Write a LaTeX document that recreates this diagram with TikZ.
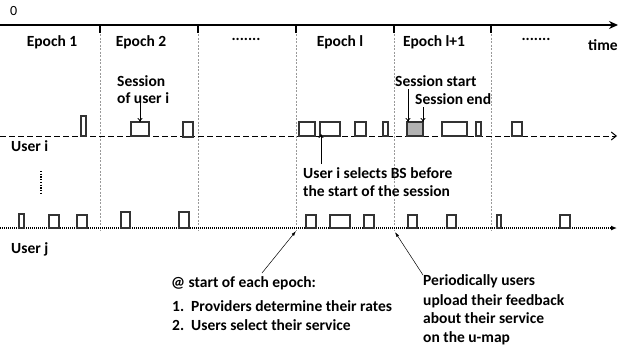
\documentclass[tikz,border=0pt]{standalone}
\usepackage{fontspec}
\setmainfont{Carlito}
\usetikzlibrary{arrows.meta}
\begin{document}
\begin{tikzpicture}[x=1pt,y=-1pt,
  lbl/.style={font=\bfseries\fontsize{15.5}{19}\selectfont, inner sep=0pt, align=left},
  sess/.style={draw=black!80, line width=1.1pt, fill=white, inner sep=0pt, outer sep=0pt, anchor=south west},
  busy/.style={sess, fill=gray!60},
  epochline/.style={draw=gray!80, dash pattern=on 2pt off 1.5pt, line width=0.8pt},
  epochtick/.style={line width=2.2pt},
  ptr/.style={-{To[length=4pt,width=5pt]}, line width=0.8pt},
  note/.style={-{Latex[length=5pt,width=3pt]}, line width=0.5pt}]
\useasboundingbox (0,0) rectangle (620,348);

% time axis and epoch boundaries
\coordinate (t0) at (0,25);
\coordinate (tend) at (618,25);
\draw[line width=2.2pt, -{Stealth[length=9pt,width=8pt]}] (t0) -- (tend);
\foreach \x in {100,198,296,394,491}{
  \draw[epochline] (\x,27) -- (\x,231);
  \draw[epochtick] (\x,25) -- (\x,33);
}
\node[font=\fontsize{14}{16}\selectfont, inner sep=0pt, anchor=base west] (zero) at (10,16) {0};

% epoch labels
\node[lbl, anchor=base] (e1) at (52,46) {Epoch 1};
\node[lbl, anchor=base] (e2) at (141,46) {Epoch 2};
\node[lbl, anchor=base] (e3) at (246,40) {.......};
\node[lbl, anchor=base] (el) at (340,46) {Epoch l};
\node[lbl, anchor=base] (el1) at (434,46) {Epoch l+1};
\node[lbl, anchor=base] (e6) at (536,40) {.......};
\node[lbl, anchor=base west] (time) at (588,50) {time};

% user lines
\coordinate (ui0) at (0,136);
\coordinate (ui1) at (617,136);
\coordinate (uj0) at (0,228);
\coordinate (uj1) at (617,228);
\draw[line width=1pt, dash pattern=on 6pt off 3pt, -{Straight Barb[length=5pt,width=8pt]}] (ui0) -- (ui1);
\draw[line width=1.2pt, dash pattern=on 1pt off 1pt, -{Latex[length=6pt,width=5pt]}] (uj0) -- (uj1);
\node[lbl, anchor=base west] (ui) at (11,151) {User i};
\node[lbl, anchor=base west] (uj) at (11,253) {User j};
\coordinate (vd0) at (41,171);
\coordinate (vd1) at (41,194);
\draw[line width=2.4pt, dash pattern=on 1.3pt off 1.4pt] (vd0) -- (vd1);

% sessions of user i
\node[sess, minimum width=5pt, minimum height=20pt] (i1) at (81,136) {};
\node[sess, minimum width=18pt, minimum height=14pt] (i2) at (131,136) {};
\node[sess, minimum width=10pt, minimum height=15pt] (i3) at (183,137) {};
\node[sess, minimum width=16pt, minimum height=14pt] (i4) at (299,136) {};
\node[sess, minimum width=20pt, minimum height=14pt] (i5) at (320,136) {};
\node[sess, minimum width=11pt, minimum height=14pt] (i6) at (355,136) {};
\node[sess, minimum width=5pt, minimum height=14pt] (i7) at (383,136) {};
\node[busy, minimum width=16pt, minimum height=14pt] (i8) at (407,136) {};
\node[sess, minimum width=25pt, minimum height=14pt] (i9) at (442,136) {};
\node[sess, minimum width=5pt, minimum height=14pt] (i10) at (476,136) {};
\node[sess, minimum width=10pt, minimum height=14pt] (i11) at (512,136) {};

% sessions of user j
\node[sess, minimum width=5pt, minimum height=14pt] (j1) at (19,228) {};
\node[sess, minimum width=10pt, minimum height=13pt] (j2) at (49,228) {};
\node[sess, minimum width=10pt, minimum height=13pt] (j3) at (77,228) {};
\node[sess, minimum width=9pt, minimum height=16pt] (j4) at (121,228) {};
\node[sess, minimum width=10pt, minimum height=16pt] (j5) at (179,228) {};
\node[sess, minimum width=10pt, minimum height=13pt] (j6) at (306,228) {};
\node[sess, minimum width=20pt, minimum height=13pt] (j7) at (330,228) {};
\node[sess, minimum width=10pt, minimum height=13pt] (j8) at (364,228) {};
\node[sess, minimum width=9pt, minimum height=13pt] (j9) at (408,228) {};
\node[sess, minimum width=9pt, minimum height=13pt] (j10) at (447,228) {};
\node[sess, minimum width=4pt, minimum height=13pt] (j11) at (497,228) {};
\node[sess, minimum width=10pt, minimum height=13pt] (j12) at (560,228) {};

% session annotations
\node[lbl, anchor=base west] (sessof) at (117,86) {Session};
\node[lbl, anchor=base west] (sessof2) at (117,103) {of user i};
\coordinate (a2) at (140,100);
\draw[ptr] (a2) -- (i2.north);

\node[lbl, anchor=base west] (sstart) at (395,86) {Session start};
\node[lbl, anchor=base west] (send) at (415,104) {Session end};
\coordinate (as) at (408,89);
\coordinate (ae) at (423,107);
\draw[ptr] (as) -- (i8.north west -| as);
\draw[ptr] (ae) -- (i8.north east);

\coordinate (ab) at (321,164);
\draw[ptr] (ab) -- ([xshift=1pt,yshift=2pt]i5.south west);
\node[lbl, anchor=base west] (bs1) at (303,178) {User i selects BS before};
\node[lbl, anchor=base west] (bs2) at (303,196) {the start of the session};

% epoch-start and feedback notes
\node[lbl, anchor=base west] (ep0) at (171,287) {@ start of each epoch:};
\node[lbl, anchor=base west] (ep1) at (172,311) {1.\ \ Providers determine their rates};
\node[lbl, anchor=base west] (ep2) at (172,330) {2.\ \ Users select their service};
\coordinate (ept) at (262,273);
\coordinate (eph) at (296,231);
\draw[note] (ept) -- (eph);

\node[lbl, anchor=base west] (fb1) at (423,285) {Periodically users};
\node[lbl, anchor=base west] (fb2) at (423,305) {upload their feedback};
\node[lbl, anchor=base west] (fb3) at (423,323) {about their service};
\node[lbl, anchor=base west] (fb4) at (423,342) {on the u-map};
\coordinate (fbt) at (423,275);
\coordinate (fbh) at (395,232);
\draw[note] (fbt) -- (fbh);
\end{tikzpicture}
\end{document}
